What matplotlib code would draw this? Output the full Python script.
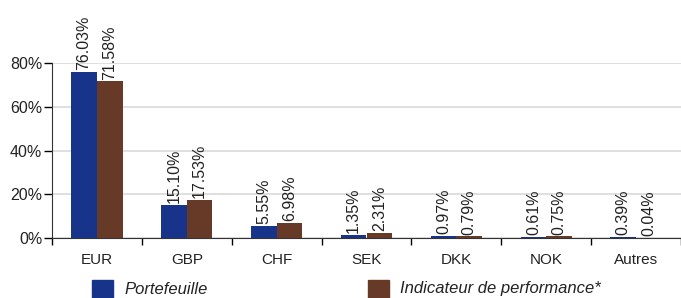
import numpy as np
import matplotlib
matplotlib.use("Agg")
import matplotlib.pyplot as plt
from matplotlib.patches import Rectangle
from matplotlib.ticker import FuncFormatter

categories = ["EUR", "GBP", "CHF", "SEK", "DKK", "NOK", "Autres"]
portefeuille = [76.03, 15.10, 5.55, 1.35, 0.97, 0.61, 0.39]
indicateur = [71.58, 17.53, 6.98, 2.31, 0.79, 0.75, 0.04]
series_names = ["Portefeuille", "Indicateur de performance*"]

blue = "#17338a"
brown = "#673a28"

plt.rcParams['font.family'] = ['Liberation Sans', 'DejaVu Sans']

W, H = 681, 298
fig = plt.figure(figsize=(W / 100, H / 100), dpi=100)
ax = fig.add_axes([52 / W, 60 / H, (681 - 52) / W, 175 / H])

x = np.arange(len(categories))
bw = 0.285
ax.bar(x - bw / 2, portefeuille, bw, color=blue, zorder=3)
ax.bar(x + bw / 2, indicateur, bw, color=brown, zorder=3)

for xi, v in zip(x - bw / 2, portefeuille):
    ax.text(xi, v + 0.8, "%.2f%%" % v, rotation=90, ha="center", va="bottom",
            fontsize=11.5, color="#222222", clip_on=False)
for xi, v in zip(x + bw / 2, indicateur):
    ax.text(xi, v + 0.8, "%.2f%%" % v, rotation=90, ha="center", va="bottom",
            fontsize=11.5, color="#222222", clip_on=False)

ax.set_ylim(0, 80)
ax.set_xlim(-0.5, 6.4)
ax.set_yticks([0, 20, 40, 60, 80])
ax.yaxis.set_major_formatter(FuncFormatter(lambda v, p: "%d%%" % v))
ax.set_xticks(x)
ax.set_xticklabels(categories)
ax.set_xticks(np.arange(-0.5, 7, 1), minor=True)
ax.tick_params(axis="x", which="major", length=0, pad=11, labelsize=11,
               labelcolor="#222222")
ax.tick_params(axis="x", which="minor", length=5, width=1, direction="out")
ax.tick_params(axis="y", length=6, width=1, labelsize=11.5, pad=1,
               labelcolor="#222222")
ax.grid(axis="y", color="#d9d9d9", linewidth=1.2, zorder=0)
for s in ["top", "right"]:
    ax.spines[s].set_visible(False)
ax.spines["left"].set_color("#333333")
ax.spines["bottom"].set_color("#333333")

# legend at the bottom
fig.patches.append(Rectangle((92 / W, 0), 21 / W, 18 / H, color=blue,
                             transform=fig.transFigure, figure=fig))
fig.text(124 / W, 9 / H, series_names[0], style="italic", fontsize=12,
         va="center", color="#222222")
fig.patches.append(Rectangle((368 / W, 0), 21 / W, 18 / H, color=brown,
                             transform=fig.transFigure, figure=fig))
fig.text(400 / W, 9 / H, series_names[1], style="italic", fontsize=12,
         va="center", color="#222222")

fig.savefig("out.png", dpi=100)
